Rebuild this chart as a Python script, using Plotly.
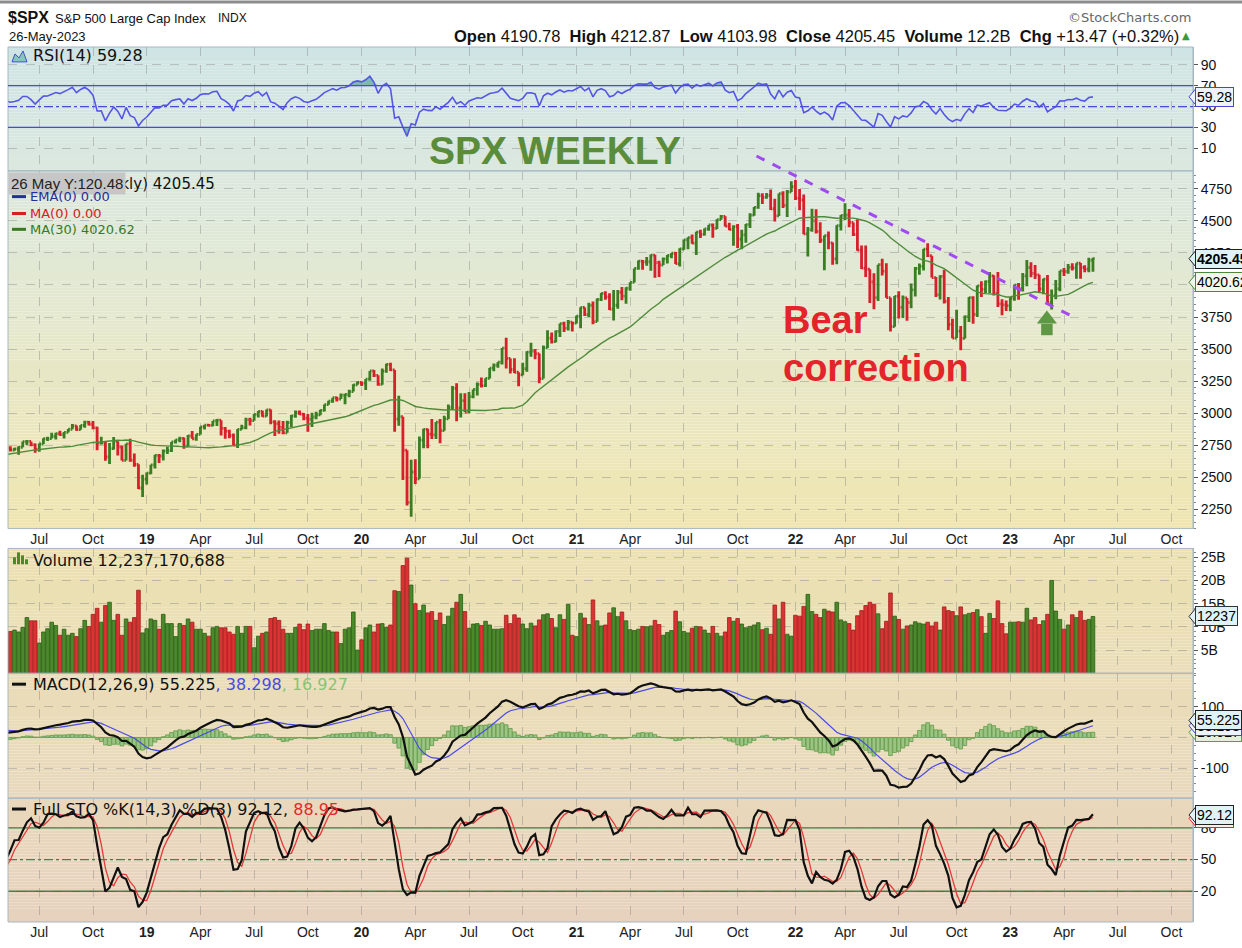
import pandas as pd
import numpy as np
import plotly.graph_objects as go

# ---------------- DATA (weekly $SPX, Fridays) ----------------
FIRST_WEEK = "2017-09-01"   # first 38 weeks are off-screen indicator warm-up
LAST_WEEK = "2023-05-26"

close = [
    # 2017 Sep-Dec
    2476.6, 2461.4, 2500.2, 2502.2, 2519.4, 2549.3, 2553.2, 2575.2, 2581.1, 2587.8, 2582.3, 2578.9, 2602.4, 2642.2, 2651.5, 2675.8, 2683.3, 2673.6,
    # 2018
    2743.2, 2786.2, 2810.3, 2872.9, 2762.1, 2619.6, 2732.2, 2747.3, 2691.3, 2786.6, 2752.0, 2588.3, 2640.9, 2604.5, 2656.3, 2670.1, 2669.9, 2663.4, 2727.7, 2713.0,
    2721.3, 2734.6, 2779.0, 2779.7, 2754.9, 2718.4, 2759.8, 2801.3, 2801.8, 2818.8, 2840.4, 2833.3, 2850.1, 2874.7, 2901.5, 2871.7, 2905.0, 2929.7, 2914.0, 2885.6, 2767.1, 2767.8, 2658.7, 2723.1, 2781.0, 2736.3, 2632.6, 2760.2, 2633.1, 2600.0, 2416.6, 2485.7,
    # 2019
    2531.9, 2596.3, 2670.7, 2664.8, 2706.5, 2707.9, 2775.6, 2792.7, 2803.7, 2743.1, 2822.5, 2800.7, 2834.4, 2892.7, 2907.4, 2905.0, 2939.9,
    2945.6, 2881.4, 2859.5, 2826.1, 2752.1, 2873.3, 2887.0, 2950.5, 2941.8, 2990.4, 3013.8, 2976.6, 3025.9, 2932.1, 2918.7, 2888.7, 2847.1, 2926.5,
    2978.7, 3007.4, 2992.1, 2961.8, 2952.0, 2970.3, 2986.2, 3022.6, 3066.9, 3093.1, 3120.5, 3110.3, 3141.0, 3145.9, 3168.8, 3221.2, 3240.0,
    # 2020
    3234.9, 3265.4, 3329.6, 3295.5, 3225.5, 3327.7, 3380.2, 3337.8, 2954.2, 2972.4, 2711.0, 2304.9, 2541.5, 2488.7, 2789.8, 2874.6, 2836.7,
    2830.7, 2929.8, 2863.7, 2955.5, 3044.3, 3193.9, 3041.3, 3097.7, 3009.1, 3130.0, 3185.0, 3224.7, 3215.6, 3271.1, 3351.3, 3372.9, 3397.2, 3508.0,
    3427.0, 3341.0, 3319.5, 3298.5, 3348.4, 3477.1, 3483.8, 3465.4, 3270.0, 3509.4, 3585.2, 3557.5, 3638.4, 3699.1, 3663.5, 3709.4, 3703.1, 3756.1,
    # 2021
    3824.7, 3768.3, 3841.5, 3714.2, 3886.8, 3934.8, 3906.7, 3811.2, 3841.9, 3943.3, 3913.1, 3974.5, 4019.9, 4128.8, 4185.5, 4180.2, 4181.2,
    4232.6, 4173.9, 4155.9, 4204.1, 4229.9, 4247.4, 4166.5, 4280.7, 4352.3, 4369.6, 4327.2, 4411.8, 4395.3, 4436.5, 4468.0, 4441.7, 4509.4,
    4535.4, 4458.6, 4433.0, 4455.5, 4357.0, 4391.3, 4471.4, 4544.9, 4605.4, 4697.5, 4682.9, 4698.0, 4594.6, 4538.4, 4712.0, 4620.6, 4725.8, 4766.2,
    # 2022
    4677.0, 4662.9, 4397.9, 4431.9, 4500.5, 4418.6, 4348.9, 4384.7, 4328.9, 4204.3, 4463.1, 4543.1, 4545.9, 4488.3, 4392.6, 4271.8, 4131.9,
    4123.3, 4023.9, 3901.4, 4158.2, 4108.5, 3900.9, 3674.8, 3911.7, 3825.3, 3899.4, 3863.2, 3961.6, 4130.3, 4145.2, 4280.2, 4228.5, 4057.7,
    3924.3, 4067.4, 3873.3, 3693.2, 3585.6, 3639.7, 3583.1, 3752.8, 3901.1, 3770.6, 3992.9, 3965.3, 4026.1, 4071.7, 3934.4, 3852.4, 3844.8, 3839.5,
    # 2023
    3895.1, 3999.1, 3972.6, 4070.6, 4136.5, 4090.5, 4079.1, 3970.0, 4045.6, 3861.6, 3916.6, 3971.0, 4109.3,
    4105.0, 4137.6, 4133.5, 4169.5, 4136.3, 4124.1, 4192.0, 4205.45,
]

high = [
    2480.0, 2475.0, 2500.2, 2508.9, 2519.4, 2552.5, 2557.7, 2575.4, 2582.9, 2588.4, 2597.0, 2590.0, 2604.2, 2657.7, 2651.7, 2676.0, 2695.0, 2692.0,
    2743.5, 2787.0, 2810.3, 2872.9, 2870.0, 2763.4, 2754.4, 2747.8, 2789.2, 2786.6, 2801.0, 2741.4, 2674.8, 2672.1, 2680.3, 2717.5, 2683.6, 2682.9, 2732.9, 2742.1,
    2731.0, 2742.2, 2779.9, 2791.5, 2774.7, 2764.2, 2763.0, 2804.5, 2816.8, 2848.0, 2848.0, 2863.4, 2853.0, 2876.2, 2916.5, 2903.8, 2908.3, 2940.9, 2939.9, 2939.6, 2894.8, 2816.9, 2778.9, 2766.9, 2815.1, 2776.0, 2746.8, 2760.9, 2800.2, 2685.4, 2601.1, 2520.3,
    2538.1, 2597.8, 2675.5, 2681.8, 2716.7, 2739.0, 2775.7, 2794.0, 2816.9, 2811.0, 2830.7, 2860.3, 2836.0, 2893.4, 2910.5, 2916.1, 2940.0,
    2954.1, 2931.7, 2892.2, 2871.6, 2841.4, 2876.3, 2910.6, 2964.2, 2964.2, 2995.8, 3017.8, 3020.0, 3028.0, 3029.3, 2945.5, 2943.3, 2939.1, 2940.4,
    2985.9, 3022.0, 3021.4, 3002.4, 2993.3, 3003.3, 3011.5, 3027.4, 3067.0, 3097.8, 3120.5, 3127.6, 3154.3, 3150.6, 3182.7, 3225.6, 3247.9,
    3247.9, 3267.1, 3329.9, 3337.8, 3285.9, 3348.0, 3385.1, 3393.5, 3259.8, 3136.7, 2882.6, 2553.9, 2637.0, 2641.4, 2818.6, 2879.2, 2879.4,
    2954.9, 2932.2, 2954.9, 2980.3, 3068.7, 3211.7, 3233.1, 3155.5, 3154.9, 3165.8, 3184.2, 3240.0, 3279.3, 3272.0, 3352.5, 3387.9, 3399.5, 3509.2,
    3588.1, 3425.6, 3428.9, 3320.3, 3393.6, 3482.3, 3549.9, 3501.3, 3464.9, 3529.0, 3646.0, 3628.5, 3644.3, 3699.2, 3712.4, 3726.7, 3711.2, 3760.2,
    3826.7, 3823.6, 3861.5, 3870.9, 3894.6, 3937.2, 3950.4, 3934.8, 3960.3, 3960.3, 3983.9, 3982.9, 4020.6, 4129.5, 4191.3, 4194.2, 4218.8,
    4238.0, 4236.4, 4188.4, 4213.4, 4234.1, 4249.7, 4257.2, 4286.1, 4355.4, 4372.0, 4393.7, 4415.2, 4430.0, 4440.8, 4468.0, 4480.3, 4513.3,
    4545.9, 4536.0, 4485.9, 4465.4, 4475.8, 4430.0, 4475.8, 4559.7, 4608.1, 4718.5, 4715.0, 4717.8, 4743.8, 4673.0, 4713.6, 4732.0, 4740.7, 4808.9,
    4818.6, 4748.8, 4705.0, 4453.2, 4595.3, 4590.0, 4489.6, 4385.0, 4416.8, 4331.6, 4465.4, 4546.0, 4637.3, 4593.5, 4472.0, 4512.9, 4308.5,
    4307.7, 4082.0, 4090.7, 4158.5, 4204.3, 4168.8, 3847.9, 3913.7, 3950.9, 3918.5, 3893.6, 4012.4, 4140.2, 4167.7, 4280.5, 4325.3, 4203.0,
    4063.0, 4076.8, 4119.3, 3907.1, 3736.7, 3806.9, 3680.0, 3762.8, 3905.4, 3911.8, 3996.0, 4028.8, 4034.0, 4100.5, 4076.8, 4101.0, 3888.5, 3878.3,
    3906.0, 4003.9, 4015.4, 4094.2, 4195.4, 4176.5, 4156.8, 4048.3, 4048.3, 4078.5, 3964.5, 4039.5, 4110.8,
    4133.1, 4163.2, 4169.5, 4170.1, 4171.4, 4154.3, 4212.9, 4212.87,
]

low = [
    2428.0, 2446.0, 2474.0, 2488.0, 2488.0, 2520.0, 2542.0, 2547.0, 2544.0, 2566.0, 2557.0, 2557.4, 2574.0, 2597.0, 2624.8, 2647.0, 2676.0, 2673.0,
    2682.0, 2742.0, 2769.0, 2808.0, 2759.0, 2532.7, 2617.0, 2675.8, 2647.3, 2664.0, 2741.4, 2585.9, 2586.0, 2553.8, 2586.3, 2658.0, 2612.7, 2594.6, 2662.0, 2701.9,
    2707.4, 2676.8, 2740.5, 2752.7, 2742.9, 2692.0, 2699.0, 2770.5, 2784.0, 2805.1, 2795.1, 2825.1, 2802.5, 2852.4, 2874.7, 2864.1, 2873.2, 2886.1, 2903.3, 2874.3, 2710.5, 2755.4, 2628.2, 2603.5, 2717.6, 2670.7, 2631.1, 2631.1, 2621.5, 2583.2, 2408.6, 2346.6,
    2444.0, 2524.6, 2569.0, 2612.1, 2631.1, 2681.8, 2697.5, 2764.3, 2773.9, 2722.3, 2739.1, 2800.3, 2785.7, 2848.6, 2873.3, 2896.3, 2898.9,
    2900.7, 2825.4, 2801.4, 2805.5, 2750.5, 2728.8, 2873.3, 2874.7, 2903.3, 2952.2, 2966.4, 2972.2, 2973.8, 2914.3, 2822.1, 2839.6, 2835.0, 2853.1,
    2891.9, 2964.2, 2986.7, 2946.0, 2856.0, 2892.6, 2952.9, 2984.3, 3013.1, 3066.4, 3082.2, 3091.4, 3111.2, 3070.3, 3124.4, 3180.5, 3223.4,
    3212.0, 3181.3, 3252.5, 3281.5, 3214.7, 3222.0, 3315.2, 3328.5, 2855.8, 2901.5, 2478.9, 2280.5, 2191.9, 2447.5, 2575.1, 2727.1, 2727.1,
    2797.9, 2797.9, 2766.6, 2921.2, 2969.8, 3031.5, 2936.9, 2965.7, 3009.0, 2999.7, 3115.7, 3138.0, 3200.0, 3204.4, 3284.5, 3327.6, 3354.7, 3380.0,
    3349.6, 3310.5, 3313.1, 3209.5, 3296.8, 3323.7, 3440.5, 3419.9, 3233.9, 3279.7, 3511.9, 3543.8, 3552.6, 3594.4, 3633.4, 3645.8, 3636.5, 3699.7,
    3662.7, 3759.0, 3749.6, 3694.1, 3725.6, 3874.9, 3884.1, 3805.6, 3723.3, 3814.5, 3881.1, 3853.5, 3955.3, 4020.6, 4118.4, 4118.4, 4150.9,
    4111.6, 4056.9, 4061.4, 4157.5, 4167.6, 4208.5, 4164.4, 4144.3, 4275.1, 4279.0, 4321.1, 4233.1, 4367.1, 4385.8, 4422.2, 4367.7, 4436.2,
    4513.0, 4456.8, 4427.8, 4305.9, 4288.5, 4278.9, 4329.9, 4445.3, 4540.9, 4595.1, 4630.9, 4672.8, 4585.4, 4495.1, 4540.5, 4600.2, 4531.1, 4733.0,
    4662.7, 4582.2, 4395.3, 4222.6, 4414.4, 4401.4, 4327.2, 4114.7, 4279.5, 4157.9, 4161.7, 4424.3, 4506.9, 4450.0, 4381.3, 4267.6, 4124.3,
    4062.5, 3858.9, 3810.3, 3875.1, 4073.9, 3900.2, 3636.9, 3705.7, 3738.7, 3742.1, 3721.6, 3818.6, 3910.7, 4079.8, 4112.1, 4218.7, 4057.7,
    3906.2, 3886.8, 3855.1, 3647.5, 3584.1, 3595.0, 3491.6, 3597.6, 3710.9, 3698.2, 3750.3, 3906.5, 3938.4, 3937.3, 3918.4, 3827.6, 3764.5, 3796.3,
    3794.3, 3877.3, 3885.5, 3949.1, 3989.6, 4060.8, 4047.5, 3943.1, 3928.2, 3846.3, 3808.9, 3888.8, 3951.5,
    4069.8, 4086.9, 4113.2, 4049.35, 4048.3, 4098.9, 4098.4, 4103.98,
]

volume_b = [
    7.5, 8.0, 9.5, 8.0, 8.0, 8.0, 8.0, 8.5, 9.0, 8.5, 8.5, 9.0, 6.5, 10.0, 9.0, 10.5, 9.0, 6.0,
    9.0, 9.0, 10.0, 10.0, 11.0, 17.0, 12.0, 9.5, 11.0, 10.0, 11.5, 12.0, 10.0, 11.0, 9.5, 9.5, 10.0, 9.5, 9.0, 9.0,
    9.3, 8.9, 9.9, 12.0, 11.3, 11.3, 6.5, 8.9, 9.6, 11.0, 10.3, 8.2, 9.5, 8.2, 8.6, 7.9, 9.6, 11.4, 10.1, 12.7, 14.0, 11.0, 14.6, 15.3, 11.4, 12.7, 8.2, 11.7, 11.0, 12.0, 17.9, 8.7,
    9.6, 11.7, 11.4, 9.5, 12.7, 10.7, 10.7, 7.9, 10.7, 10.3, 11.7, 11.0, 9.5, 9.5, 8.6, 8.0, 9.8,
    10.1, 9.8, 9.8, 8.9, 8.4, 10.1, 8.6, 10.1, 10.1, 5.5, 8.0, 8.6, 8.9, 11.8, 12.0, 11.4, 9.5, 8.6,
    8.6, 9.9, 10.6, 9.4, 10.6, 9.2, 9.5, 9.5, 10.7, 9.2, 8.9, 8.9, 6.4, 9.5, 9.8, 13.2, 5.0,
    7.2, 9.8, 10.4, 8.9, 10.6, 10.7, 9.9, 10.4, 17.8, 17.6, 23.2, 24.8, 19.0, 15.0, 13.5, 14.7, 13.0,
    13.3, 11.4, 13.0, 10.5, 12.3, 14.0, 15.3, 17.0, 13.3, 9.7, 10.6, 10.7, 10.3, 11.2, 10.4, 9.5, 9.5, 9.6,
    12.5, 10.7, 12.6, 11.9, 10.6, 9.6, 10.8, 10.2, 11.5, 12.6, 12.8, 11.8, 9.8, 12.6, 11.6, 14.8, 8.2, 7.9,
    12.9, 11.9, 10.5, 15.8, 11.3, 10.2, 10.4, 13.0, 14.1, 12.2, 13.2, 11.3, 9.4, 9.2, 9.5, 10.1, 10.0,
    10.2, 11.4, 10.5, 8.2, 8.8, 9.2, 13.4, 11.1, 9.0, 8.7, 9.7, 10.1, 10.0, 9.3, 8.6, 10.1, 8.6,
    8.0, 8.9, 12.0, 11.2, 11.8, 10.6, 9.8, 10.1, 10.4, 10.9, 9.4, 9.7, 8.4, 14.7, 11.7, 15.3, 8.4, 8.0,
    12.5, 12.3, 14.4, 17.0, 13.3, 12.7, 12.0, 13.8, 13.4, 13.2, 15.3, 11.5, 11.1, 10.7, 9.3, 12.4, 13.5,
    14.6, 15.3, 14.8, 12.8, 9.6, 11.2, 17.3, 12.3, 11.6, 9.5, 10.2, 10.4, 11.1, 10.8, 10.6, 11.0, 10.2,
    11.0, 9.3, 14.3, 13.5, 13.3, 12.4, 14.3, 12.6, 12.9, 13.1, 13.7, 12.2, 8.6, 12.9, 11.8, 15.6, 10.7, 8.5,
    11.0, 11.0, 11.1, 11.0, 14.0, 11.5, 12.0, 10.5, 11.3, 12.7, 20.0, 13.4, 11.6,
    9.5, 10.4, 12.6, 12.0, 13.4, 11.4, 11.6, 12.237,
]

# Values printed in the reference's labels
LAST_RSI, LAST_MA30, LAST_VOL = 59.28, 4020.62, 12.237
LAST_MACD, LAST_SIGNAL, LAST_HIST = 55.225, 38.298, 16.927
LAST_K, LAST_D = 92.12, 88.95

# ---------------- derived series ----------------
weeks = pd.date_range(FIRST_WEEK, LAST_WEEK, freq="W-FRI")
n = len(weeks)
assert len(close) == n and len(high) == n and len(low) == n and len(volume_b) == n

c = pd.Series(close, dtype=float)
opens = c.shift(1).fillna(c.iloc[0])           # weekly bar opens at prior close
h = pd.concat([pd.Series(high, dtype=float), opens, c], axis=1).max(axis=1)
l = pd.concat([pd.Series(low, dtype=float), opens, c], axis=1).min(axis=1)
v = pd.Series(volume_b, dtype=float)
up = c >= c.shift(1).fillna(c.iloc[0])

ma30 = c.rolling(30).mean()
d = c.diff().fillna(0)
ag = d.clip(lower=0).ewm(alpha=1 / 14, adjust=False).mean()
al = (-d.clip(upper=0)).ewm(alpha=1 / 14, adjust=False).mean()
rsi = 100 - 100 / (1 + ag / al)
macd = c.ewm(span=12, adjust=False).mean() - c.ewm(span=26, adjust=False).mean()
signal = macd.ewm(span=9, adjust=False).mean()
hist = macd - signal
hh = h.rolling(14).max()
ll = l.rolling(14).min()
fastk = (c - ll) / (hh - ll) * 100
fullk = fastk.rolling(3).mean()
fulld = fullk.rolling(3).mean()

# tick positions: first weekly bar of Jan/Apr/Jul/Oct
cal = pd.date_range(FIRST_WEEK, "2023-11-10", freq="W-FRI")
tick_dates, tick_text = [], []
seen = set()
for dt in cal:
    key = (dt.year, dt.month)
    if dt.month in (1, 4, 7, 10) and key not in seen:
        seen.add(key)
        tick_dates.append(dt)
        tick_text.append("<b>%02d</b>" % (dt.year % 100) if dt.month == 1 else dt.strftime("%b"))

# ---------------- layout geometry ----------------
W, H = 1242, 948
PL, PR, PT, PB = 8, 1193, 47, 930


def fx(px):
    return (px - PL) / (PR - PL)


def fy(py):
    return (PB - py) / (PB - PT)


DOM_RSI = [fy(172), 1.0]
DOM_PRICE = [fy(533), fy(172)]
DOM_VOL = [fy(679), fy(553)]
DOM_MACD = [fy(805), fy(679)]
DOM_STO = [0.0, fy(805)]

R_RSI = [-11.6, 107]
R_PRICE = [2100, 4890]
R_VOL = [0, 26.9]
R_MACD = [-196, 208]
R_STO = [-9.1, 108.1]
XR = ["2018-05-14", "2023-11-11 12:00"]


def vfrac(val, rng, dom):
    return dom[0] + (val - rng[0]) / (rng[1] - rng[0]) * (dom[1] - dom[0])


GREEN = "#3a7d22"
RED = "#d6202a"
GRID = "rgba(120,120,120,0.38)"
BORDER = "#a6b7c2"
AXFONT = dict(family="Liberation Sans, Arial", size=14, color="#111")
LBL = "DejaVu Sans, Verdana"

fig = go.Figure()

# RSI panel
fig.add_trace(go.Scatter(x=weeks, y=[70] * n, mode="lines", line=dict(width=0), xaxis="x", yaxis="y", hoverinfo="skip"))
fig.add_trace(go.Scatter(x=weeks, y=np.maximum(rsi, 70), mode="lines", line=dict(width=0), fill="tonexty",
                         fillcolor="rgba(96,170,160,0.75)", xaxis="x", yaxis="y", hoverinfo="skip"))
fig.add_trace(go.Scatter(x=weeks, y=[30] * n, mode="lines", line=dict(width=0), xaxis="x", yaxis="y", hoverinfo="skip"))
fig.add_trace(go.Scatter(x=weeks, y=np.minimum(rsi, 30), mode="lines", line=dict(width=0), fill="tonexty",
                         fillcolor="rgba(96,170,160,0.75)", xaxis="x", yaxis="y", hoverinfo="skip"))
fig.add_trace(go.Scatter(x=weeks, y=rsi, mode="lines", line=dict(color="#5656e6", width=1.6), xaxis="x", yaxis="y"))

# Price panel
fig.add_trace(go.Ohlc(x=weeks, open=opens, high=h, low=l, close=c, xaxis="x2", yaxis="y2",
                      increasing=dict(line=dict(color=GREEN, width=2.8)),
                      decreasing=dict(line=dict(color=RED, width=2.8)), tickwidth=0.42))
fig.add_trace(go.Scatter(x=weeks, y=ma30, mode="lines", line=dict(color="#4f8b3b", width=1.4), xaxis="x2", yaxis="y2"))

# green arrow annotation (drawn with markers)
fig.add_trace(go.Scatter(x=[pd.Timestamp("2023-03-09")], y=[3733], mode="markers", xaxis="x2", yaxis="y2",
                         marker=dict(symbol="triangle-up", size=17.5, color="#5f9845", line=dict(width=0))))
fig.add_trace(go.Scatter(x=[pd.Timestamp("2023-03-09")], y=[3653], mode="markers", xaxis="x2", yaxis="y2",
                         marker=dict(symbol="square", size=11.5, color="#5f9845", line=dict(width=0))))

# Volume panel
fig.add_trace(go.Bar(x=weeks, y=v, xaxis="x3", yaxis="y3",
                     marker=dict(color=np.where(up, "#4a8a2a", "#d93333"),
                                 line=dict(color=np.where(up, "#2c5c17", "#a51c1c"), width=0.8))))

# MACD panel
fig.add_trace(go.Bar(x=weeks, y=hist, xaxis="x4", yaxis="y4",
                     marker=dict(color="#9cc585", line=dict(color="#5f9a45", width=0.8))))
fig.add_trace(go.Scatter(x=weeks, y=signal, mode="lines", line=dict(color="#4b4be6", width=1.2), xaxis="x4", yaxis="y4"))
fig.add_trace(go.Scatter(x=weeks, y=macd, mode="lines", line=dict(color="#111", width=2.2), xaxis="x4", yaxis="y4"))

# STO panel
fig.add_trace(go.Scatter(x=weeks, y=fulld, mode="lines", line=dict(color="#e43a3a", width=1.3), xaxis="x5", yaxis="y5"))
fig.add_trace(go.Scatter(x=weeks, y=fullk, mode="lines", line=dict(color="#111", width=2.2), xaxis="x5", yaxis="y5"))


def xax(anchor, labels):
    return dict(domain=[0, 1], anchor=anchor, type="date", range=XR, tickmode="array",
                tickvals=tick_dates, ticktext=tick_text, showticklabels=labels, ticks="",
                showgrid=True, gridcolor=GRID, griddash="dash", gridwidth=1, zeroline=False,
                showline=False, tickfont=dict(family="Liberation Sans, Arial", size=14, color="#222"),
                rangeslider=dict(visible=False), fixedrange=True)


def yax(anchor, dom, rng, vals, texts, minor=None):
    ax = dict(domain=dom, anchor=anchor, range=rng, side="right", tickmode="array", tickvals=vals,
              ticktext=texts, showgrid=True, gridcolor=GRID, griddash="dash", gridwidth=1,
              zeroline=False, showline=True, linecolor=BORDER, ticks="outside", ticklen=4,
              tickcolor="#555", tickfont=AXFONT, fixedrange=True)
    if minor:
        ax["minor"] = dict(ticks="outside", ticklen=2, tickcolor="#888", dtick=minor, tick0=0, showgrid=False)
    return ax


price_ticks = list(range(2250, 4751, 250))
layout = dict(
    width=W, height=H, margin=dict(l=PL, r=W - PR, t=PT, b=H - PB, pad=0),
    paper_bgcolor="white", plot_bgcolor="rgba(0,0,0,0)", showlegend=False, hovermode=False,
    bargap=0.12,
    xaxis=xax("y", False), xaxis2=xax("y2", True), xaxis3=xax("y3", False),
    xaxis4=xax("y4", False), xaxis5=xax("y5", True),
    yaxis=yax("x", DOM_RSI, R_RSI, [10, 30, 50, 70, 90], ["10", "30", "50", "70", "90"]),
    yaxis2=yax("x2", DOM_PRICE, R_PRICE, price_ticks, [str(t) for t in price_ticks], minor=50),
    yaxis3=yax("x3", DOM_VOL, R_VOL, [5, 10, 15, 20, 25], ["5B", "10B", "15B", "20B", "25B"], minor=1),
    yaxis4=yax("x4", DOM_MACD, R_MACD, [-100, 0, 100], ["-100", "0", "100"], minor=25),
    yaxis5=yax("x5", DOM_STO, R_STO, [20, 50, 80], ["20", "50", "80"]),
)
fig.update_layout(**layout)

shapes = []


def mix(a, b, t):
    return tuple(int(round(a[i] + (b[i] - a[i]) * t)) for i in range(3))


GRAD = [(47, (207, 228, 229)), (172, (219, 232, 223)), (330, (229, 232, 204)), (533, (240, 229, 175)),
        (553, (236, 225, 178)), (679, (234, 221, 183)), (805, (233, 216, 188)), (930, (231, 210, 189))]


def grad_color(y):
    for (y0, c0), (y1, c1) in zip(GRAD[:-1], GRAD[1:]):
        if y0 <= y <= y1:
            return mix(c0, c1, (y - y0) / (y1 - y0))
    return GRAD[-1][1]


for (a, b) in [(47, 533), (553, 930)]:
    y = a
    while y < b:
        y2 = min(b, y + 3)
        col = grad_color((y + y2) / 2)
        shapes.append(dict(type="rect", xref="paper", yref="paper", x0=0, x1=1, y0=fy(y2), y1=fy(y),
                           fillcolor="rgb(%d,%d,%d)" % col, line=dict(width=0), layer="below"))
        y = y2

# panel frames
for dom in [DOM_RSI, DOM_PRICE, DOM_VOL, DOM_MACD, DOM_STO]:
    shapes.append(dict(type="rect", xref="paper", yref="paper", x0=0, x1=1, y0=dom[0], y1=dom[1],
                       line=dict(color=BORDER, width=1), fillcolor="rgba(0,0,0,0)", layer="above"))

# RSI reference lines
for lvl, dash in [(70, "solid"), (30, "solid"), (50, "dashdot")]:
    shapes.append(dict(type="line", xref="paper", yref="y", x0=0, x1=1, y0=lvl, y1=lvl,
                       line=dict(color="#4a4ad8", width=1.3, dash=dash), layer="above"))
# STO reference lines
for lvl, dash in [(80, "solid"), (20, "solid"), (50, "dashdot")]:
    shapes.append(dict(type="line", xref="paper", yref="y5", x0=0, x1=1, y0=lvl, y1=lvl,
                       line=dict(color="#3f7b3f", width=1.3, dash=dash), layer="below"))

# purple trend line (drawn annotation), price units on the price scale
shapes.append(dict(type="line", xref="x2", yref="paper",
                   x0="2021-11-02", x1="2023-04-25",
                   y0=vfrac(5006, R_PRICE, DOM_PRICE), y1=vfrac(3746, R_PRICE, DOM_PRICE),
                   line=dict(color="#a349f2", width=3, dash="dash"), layer="above"))

# top window frame
shapes.append(dict(type="rect", xref="paper", yref="paper", x0=fx(0), x1=fx(W), y0=fy(3), y1=fy(0),
                   fillcolor="#8c8c8c", line=dict(width=0)))

# legend swatches
for py, col in [(198, "#1f2f96"), (215, "#d42020"), (231, "#3a7a20"), (690, "#111"), (816, "#111")]:
    shapes.append(dict(type="line", xref="paper", yref="paper", x0=fx(12), x1=fx(26), y0=fy(py), y1=fy(py),
                       line=dict(color=col, width=3)))
# RSI icon
pts = [(12, 62), (15, 54), (19, 58), (23, 51), (27, 62)]
path = "M " + " L ".join("%f,%f" % (fx(x), fy(y)) for x, y in pts) + " Z"
shapes.append(dict(type="path", xref="paper", yref="paper", path=path, fillcolor="#86c6c0",
                   line=dict(color="#4050d0", width=1)))
# volume icon
for x0, y0 in [(13, 562), (17, 557), (21, 560), (25, 564)]:
    shapes.append(dict(type="rect", xref="paper", yref="paper", x0=fx(x0), x1=fx(x0 + 3), y0=fy(569), y1=fy(y0),
                       fillcolor="#4a8a2a", line=dict(width=0)))

annotations = []


def txt(x, y, text, size, color="#111", family=LBL, anchor="left", **kw):
    d = dict(xref="paper", yref="paper", x=fx(x), y=fy(y), xanchor=anchor, yanchor="middle", text=text,
             showarrow=False, font=dict(family=family, size=size, color=color))
    d.update(kw)
    annotations.append(d)


HF = "Liberation Sans, Arial"
txt(6, 17, "<b>$SPX</b>", 16, family=HF)
txt(53, 18, "S&P 500 Large Cap Index", 13, family=HF)
txt(216, 18, "INDX", 12, family=HF)
txt(7, 36, "26-May-2023", 13, family=HF)
txt(1193, 17, "©StockCharts.com", 13, color="#666", family="DejaVu Sans", anchor="right")
txt(1181, 36, "<b>Open</b> 4190.78  <b>High</b> 4212.87  <b>Low</b> 4103.98  <b>Close</b> 4205.45  "
              "<b>Volume</b> 12.2B  <b>Chg</b> +13.47 (+0.32%)", 16.5, family=HF, anchor="right")
txt(1192, 35, "▲", 10, color="#3a9a3a", family="DejaVu Sans", anchor="right")

txt(31, 56, "RSI(14) 59.28", 16)
txt(37, 185, "$SPX (Weekly) 4205.45", 15)
txt(8, 185, "26 May Y:120.48", 15, color="#222", family=HF, bgcolor="#c6c6c6", borderpad=2)
txt(28, 198, "EMA(0) 0.00", 13, color="#1f2f96")
txt(28, 215, "MA(0) 0.00", 13, color="#d42020")
txt(28, 231, "MA(30) 4020.62", 13, color="#3a7a20")
txt(31, 565, "Volume 12,237,170,688", 16)
txt(31, 690, "MACD(12,26,9) 55.225<span style='color:#4a4ae0'>, 38.298</span>"
             "<span style='color:#86c474'>, 16.927</span>", 16)
txt(31, 816, "Full STO %K(14,3) %D(3) 92.12, <span style='color:#e02828'>88.95</span>", 16)

txt(555, 151, "<b>SPX WEEKLY</b>", 39, color="#5b8c3a", family=HF, anchor="center")
txt(781, 323, "<b>Bear</b>", 38, color="#e3242b", family=HF)
txt(781, 371, "<b>correction</b>", 38, color="#e3242b", family=HF)


def tag(val, rng, dom, text, border, bg, bold=False, color="#000"):
    yv = vfrac(val, rng, dom)
    hpx = 8.5 / (PB - PT)
    shapes.append(dict(type="path", xref="paper", yref="paper",
                       path="M %f,%f L %f,%f L %f,%f Z" % (fx(1189), yv, fx(1196), yv + hpx, fx(1196), yv - hpx),
                       fillcolor=bg, line=dict(color=border, width=1)))
    annotations.append(dict(xref="paper", yref="paper", x=fx(1195), y=yv, xanchor="left", yanchor="middle",
                            text=("<b>%s</b>" % text) if bold else text, showarrow=False,
                            font=dict(family="Liberation Sans, Arial", size=14, color=color),
                            bgcolor=bg, bordercolor=border, borderwidth=1, borderpad=1))


tag(LAST_RSI, R_RSI, DOM_RSI, "59.28", "#4646d8", "#eef2fb")
tag(LAST_MA30, R_PRICE, DOM_PRICE, "4020.62", "#4a8a3a", "#f2f8ee")
tag(close[-1], R_PRICE, DOM_PRICE, "4205.45", "#222", "#dff3f6", bold=True)
tag(LAST_VOL, R_VOL, DOM_VOL, "12237", "#333", "#dff3f6")
tag(LAST_HIST, R_MACD, DOM_MACD, "16.927", "#5f9a45", "#e4f0dc")
tag(LAST_SIGNAL, R_MACD, DOM_MACD, "38.298", "#4646d8", "#eef2fb")
tag(LAST_MACD, R_MACD, DOM_MACD, "55.225", "#222", "#dff3f6")
tag(LAST_D, R_STO, DOM_STO, "88.95", "#e02828", "#fbeeee")
tag(LAST_K, R_STO, DOM_STO, "92.12", "#222", "#dff3f6")

fig.update_layout(shapes=shapes, annotations=annotations)

fig.write_html("out.html", include_plotlyjs=True, full_html=True, config={"displayModeBar": False},
               post_script="document.body.style.margin='0';document.body.style.overflow='hidden';")
